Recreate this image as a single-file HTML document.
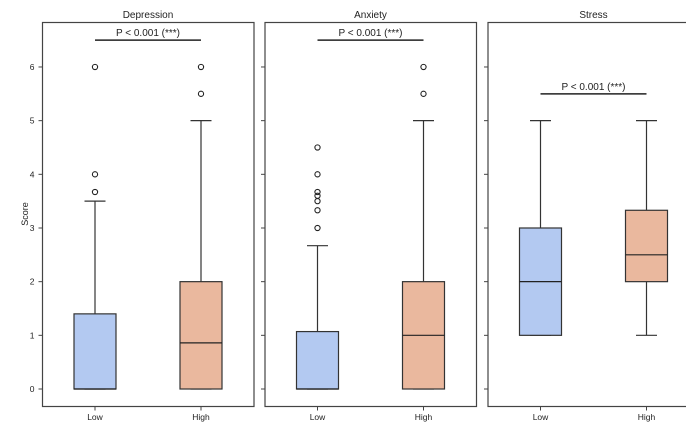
<!DOCTYPE html>
<html><head><meta charset="utf-8"><style>
html,body{margin:0;padding:0;background:#fff;width:686px;height:440px;overflow:hidden}
svg{display:block;font-family:"Liberation Sans","DejaVu Sans",sans-serif}
</style></head><body>
<svg id="chart" width="686" height="440"></svg>
<script>
const panelTitles = ["Depression","Anxiety","Stress"];
const groups = ["Low","High"];
// [whiskerLow, q1, median, q3, whiskerHigh]
const depressionStats = [[0,0,0,1.4,3.5],[0,0,0.86,2,5]];
const anxietyStats = [[0,0,0,1.07,2.67],[0,0,1,2,5]];
const stressStats = [[1,1,2,3,5],[1,2,2.5,3.33,5]];
const depressionOutliers = [[3.67,4,6],[5.5,6]];
const anxietyOutliers = [[3,3.33,3.5,3.6,3.67,4,4.5],[5.5,6]];
const stressOutliers = [[],[]];
const sigLabels = ["P < 0.001 (***)","P < 0.001 (***)","P < 0.001 (***)"];
const sigLevels = [6.5,6.5,5.5];
const yTicks = [0,1,2,3,4,5,6];

const statsAll=[depressionStats,anxietyStats,stressStats];
const outlAll=[depressionOutliers,anxietyOutliers,stressOutliers];
const boxColors=["#b3c9f1","#eab89e"];
const panelLeft=[42.5,265,488], panelW=211.5, plotTop=22.5, plotBottom=406.5;
function yScale(v){return 389-v*53.67;}
const svgEl=document.getElementById('chart');
const NS="http://www.w3.org/2000/svg";
function mk(tag,attrs,parent){const e=document.createElementNS(NS,tag);for(const k in attrs)e.setAttribute(k,attrs[k]);(parent||svgEl).appendChild(e);return e;}
function txt(s,attrs,parent){const e=mk('text',attrs,parent);e.textContent=s;return e;}

const yt=txt("Score",{x:0,y:0,transform:"translate(28,214) rotate(-90)","text-anchor":"middle","font-size":"9",fill:"#222"});



panelTitles.forEach((t,p)=>{
  const L=panelLeft[p];
  const g=mk('g',{});
  
  
  const xs=[L+52.5,L+158.5];
  const fr=mk('rect',{x:L,y:plotTop,width:panelW,height:plotBottom-plotTop,fill:"none",stroke:"#444","stroke-width":1.2},g);
  
  
  const tt=txt(t,{x:L+105.5,y:18,"text-anchor":"middle","font-size":"10",fill:"#222"},g);
  
  
  yTicks.forEach(v=>{
    mk('line',{x1:L-4,x2:L,y1:yScale(v),y2:yScale(v),stroke:"#444"},g);
    if(p===0){const l=txt(String(v),{x:L-8,y:yScale(v)+3,"text-anchor":"end","font-size":"8.5",fill:"#222"},g);
      
      }
  });
  groups.forEach((gr,i)=>{
    const x=xs[i], s=statsAll[p][i];
    mk('line',{x1:x,x2:x,y1:plotBottom,y2:plotBottom+4,stroke:"#444"},g);
    const xl=txt(gr,{x:x,y:420,"text-anchor":"middle","font-size":"8.5",fill:"#222"},g);
    
    
    mk('line',{x1:x,x2:x,y1:yScale(s[0]),y2:yScale(s[1]),stroke:"#333","stroke-width":1.2},g);
    mk('line',{x1:x,x2:x,y1:yScale(s[3]),y2:yScale(s[4]),stroke:"#333","stroke-width":1.2},g);
    mk('line',{x1:x-10.5,x2:x+10.5,y1:yScale(s[0]),y2:yScale(s[0]),stroke:"#333","stroke-width":1.2},g);
    mk('line',{x1:x-10.5,x2:x+10.5,y1:yScale(s[4]),y2:yScale(s[4]),stroke:"#333","stroke-width":1.2},g);
    const b=mk('rect',{x:x-21,y:yScale(s[3]),width:42,height:yScale(s[1])-yScale(s[3]),fill:boxColors[i],stroke:"#333","stroke-width":1.2},g);
    
    
    mk('line',{x1:x-21,x2:x+21,y1:yScale(s[2]),y2:yScale(s[2]),stroke:"#222","stroke-width":1.2},g);
    outlAll[p][i].forEach(v=>{
      const c=mk('circle',{cx:x,cy:yScale(v),r:2.6,fill:"none",stroke:"#222","stroke-width":1.1},g);
      
      
    });
  });
  const sy=yScale(sigLevels[p]);
  mk('line',{x1:xs[0],x2:xs[1],y1:sy,y2:sy,stroke:"#222","stroke-width":1.5},g);
  const st=txt(sigLabels[p],{x:(xs[0]+xs[1])/2,y:sy-4,"text-anchor":"middle","font-size":"10",fill:"#222"},g);
  
  
});
</script>
</body></html>
